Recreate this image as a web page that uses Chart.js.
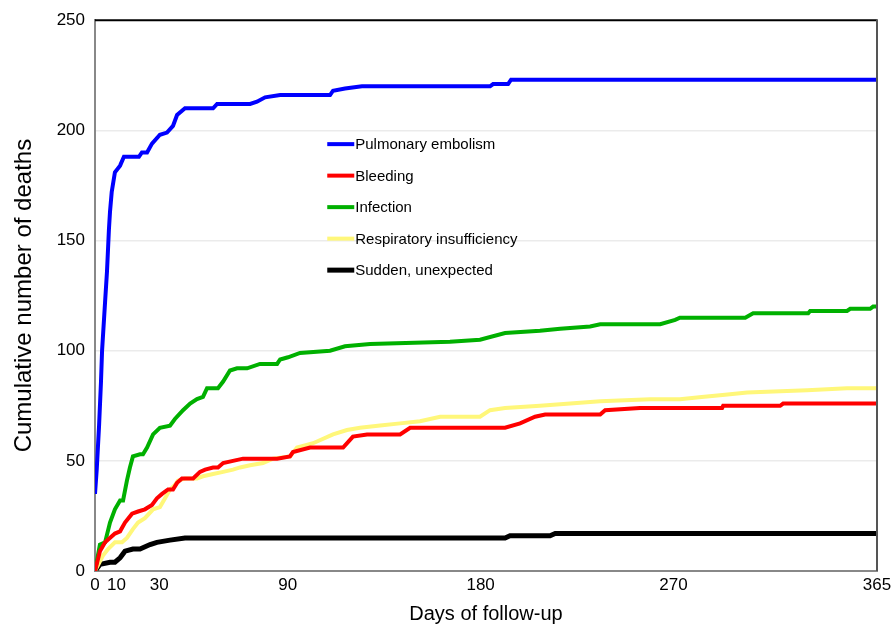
<!DOCTYPE html>
<html>
<head>
<meta charset="utf-8">
<script src="https://cdn.jsdelivr.net/npm/chart.js@4.4.0/dist/chart.umd.min.js"></script>
<style>
  html, body { margin: 0; padding: 0; background: #fff; }
  #wrap { width: 896px; height: 626px; }
</style>
</head>
<body>
<div id="wrap"><canvas id="lineChart"></canvas></div>
<script>
// x tick labels (days)
var dayTicks = [0, 10, 30, 90, 180, 270, 365];
var yTicks = [0, 50, 100, 150, 200, 250];

// Pulmonary embolism
var peDays = [0, 0.8, 1.9, 2.8, 3.3, 4.7, 5.6, 6.5, 7.0, 7.8, 9.3, 11.7, 13.5, 20.5, 21.9, 24.3, 26.6, 30.3, 33.6, 36.4, 38.3, 42.0, 55.1, 57.0, 72.4, 75.6, 79.4, 86.4, 109.7, 111.1, 116.7, 124.6, 184.4, 185.8, 192.8, 194.2, 365];
var peDeaths = [35, 46, 66, 86, 100, 122, 136, 155, 163, 172, 181, 184, 188, 188, 190, 190, 194, 198, 199, 202, 207, 210, 210, 212, 212, 213, 215, 216, 216, 218, 219, 220, 220, 221, 221, 223, 223];

// Bleeding
var blDays = [0, 2.3, 4.7, 9.3, 11.7, 14.0, 17.3, 20.1, 23.3, 26.6, 28.9, 31.3, 34.1, 36.4, 38.3, 40.6, 45.8, 49.0, 51.4, 55.1, 57.4, 59.8, 64.4, 69.1, 81.7, 85.0, 91.0, 92.4, 100.4, 115.8, 120.4, 127.0, 142.4, 147.1, 163.4, 165.7, 191.4, 198.4, 205.4, 210.1, 235.8, 238.1, 254.4, 273.0, 292.7, 293.2, 319.8, 321.2, 365];
var blDeaths = [0, 9, 13, 17, 18, 22, 26, 27, 28, 30, 33, 35, 37, 37, 40, 42, 42, 45, 46, 47, 47, 49, 50, 51, 51, 51, 52, 54, 56, 56, 61, 62, 62, 65, 65, 65, 65, 67, 70, 71, 71, 73, 74, 74, 74, 75, 75, 76, 76];

// Infection
var inDays = [0, 2.3, 4.7, 7.0, 9.3, 11.7, 13.1, 14.9, 16.3, 17.7, 21.0, 22.4, 24.3, 27.1, 30.3, 35.0, 37.3, 41.1, 44.4, 47.6, 50.4, 52.3, 57.4, 59.8, 63.0, 66.3, 71.0, 77.0, 85.0, 86.4, 90.1, 95.7, 109.7, 116.7, 128.4, 165.7, 179.7, 191.4, 207.7, 217.1, 231.1, 235.8, 263.8, 270.8, 273.0, 303.5, 307.2, 332.9, 333.8, 351.0, 352.5, 361.8, 363.2, 365];
var inDeaths = [0, 12, 13, 22, 28, 32, 32, 41, 47, 52, 53, 53, 56, 62, 65, 66, 69, 73, 76, 78, 79, 83, 83, 86, 91, 92, 92, 94, 94, 96, 97, 99, 100, 102, 103, 104, 105, 108, 109, 110, 111, 112, 112, 114, 115, 115, 117, 117, 118, 118, 119, 119, 120, 120];

// Respiratory insufficiency
var riDays = [0, 3.7, 6.1, 9.3, 12.6, 14.9, 17.7, 20.1, 23.3, 27.1, 30.3, 32.7, 35.0, 37.3, 38.7, 42.0, 47.6, 50.4, 55.1, 59.8, 64.4, 67.7, 72.4, 78.4, 83.1, 91.0, 94.3, 101.8, 111.1, 117.6, 123.7, 133.1, 142.4, 151.7, 161.1, 179.7, 184.4, 191.4, 207.7, 221.8, 235.8, 259.1, 273.0, 283.2, 294.1, 304.4, 332.4, 351.0, 365];
var riDeaths = [0, 7, 10, 13, 13, 15, 19, 22, 24, 28, 29, 33, 37, 39, 41, 42, 42, 43, 44, 45, 46, 47, 48, 49, 51, 52, 56, 58, 62, 64, 65, 66, 67, 68, 70, 70, 73, 74, 75, 76, 77, 78, 78, 79, 80, 81, 82, 83, 83];

// Sudden, unexpected
var suDays = [0, 2.3, 7.0, 9.3, 11.7, 14.0, 17.7, 21.0, 25.7, 28.9, 35.0, 42.0, 53.7, 191.4, 193.7, 212.4, 214.8, 365];
var suDeaths = [0, 3, 4, 4, 6, 9, 10, 10, 12, 13, 14, 15, 15, 15, 16, 16, 17, 17];

var FONT = '"Liberation Sans", Arial, sans-serif';

function pts(days, vals) {
  return days.map(function (d, i) { return { x: d, y: vals[i] }; });
}

function series(label, days, vals, color, width) {
  return {
    label: label,
    data: pts(days, vals),
    borderColor: color,
    backgroundColor: color,
    borderWidth: width,
    pointRadius: 0,
    tension: 0,
    fill: false
  };
}

// legend drawn inside the plot area
var insideLegend = {
  id: 'insideLegend',
  afterDatasetsDraw: function (chart) {
    var ctx = chart.ctx, a = chart.chartArea;
    var x0 = a.left + (a.right - a.left) * 0.297;
    var y0 = a.top + (a.bottom - a.top) * 0.225;
    ctx.save();
    ctx.font = '15px ' + FONT;
    ctx.textBaseline = 'middle';
    chart.data.datasets.forEach(function (ds, i) {
      var y = y0 + i * 31.5;
      ctx.strokeStyle = ds.borderColor;
      ctx.lineWidth = ds.borderWidth;
      ctx.beginPath();
      ctx.moveTo(x0, y);
      ctx.lineTo(x0 + 27, y);
      ctx.stroke();
      ctx.fillStyle = '#000';
      ctx.fillText(ds.label, x0 + 28, y + 1);
    });
    ctx.restore();
  }
};

// top and right frame lines
var frame = {
  id: 'frame',
  afterDraw: function (chart) {
    var ctx = chart.ctx, a = chart.chartArea;
    ctx.save();
    ctx.lineWidth = 2;
    ctx.strokeStyle = '#000';
    ctx.beginPath();
    ctx.moveTo(a.left, a.top);
    ctx.lineTo(a.right, a.top);
    ctx.stroke();
    ctx.strokeStyle = '#555';
    ctx.beginPath();
    ctx.moveTo(a.right, a.top - 1);
    ctx.lineTo(a.right, a.bottom);
    ctx.stroke();
    ctx.restore();
  }
};

var ctxL = document.getElementById('lineChart').getContext('2d');
var myLineChart = new Chart(ctxL, {
  type: 'line',
  data: {
    datasets: [
      series('Pulmonary embolism', peDays, peDeaths, '#0000FF', 4),
      series('Bleeding', blDays, blDeaths, '#FF0000', 4),
      series('Infection', inDays, inDeaths, '#00B000', 4),
      series('Respiratory insufficiency', riDays, riDeaths, '#FFF77A', 4),
      series('Sudden, unexpected', suDays, suDeaths, '#000000', 5)
    ]
  },
  plugins: [insideLegend, frame],
  options: {
    responsive: true,
    maintainAspectRatio: false,
    animation: false,
    layout: { padding: { top: 18, right: 19, left: 0, bottom: 0 } },
    plugins: {
      legend: { display: false },
      tooltip: { enabled: false }
    },
    scales: {
      x: {
        type: 'linear',
        min: 0,
        max: 365,
        afterBuildTicks: function (scale) {
          scale.ticks = dayTicks.map(function (v) { return { value: v }; });
        },
        afterFit: function (scale) { scale.height = 55; },
        grid: { display: false, drawTicks: false },
        border: { color: '#888', width: 2 },
        ticks: {
          autoSkip: false,
          maxRotation: 0,
          padding: 4,
          color: '#000',
          font: { family: FONT, size: 17 }
        },
        title: {
          display: true,
          text: 'Days of follow-up',
          color: '#000',
          padding: { top: 0, bottom: 0 },
          font: { family: FONT, size: 20 }
        }
      },
      y: {
        min: 0,
        max: 250,
        afterBuildTicks: function (scale) {
          scale.ticks = yTicks.map(function (v) { return { value: v }; });
        },
        afterFit: function (scale) { scale.width = 95; },
        grid: {
          drawTicks: false,
          color: function (c) {
            return (c.tick && (c.tick.value === 0 || c.tick.value === 250)) ? 'rgba(0,0,0,0)' : '#ebebeb';
          },
          lineWidth: 1.5
        },
        border: { color: '#888', width: 2 },
        ticks: {
          padding: 10,
          color: '#000',
          font: { family: FONT, size: 17 }
        },
        title: {
          display: true,
          text: 'Cumulative number of deaths',
          color: '#000',
          padding: { top: 10, bottom: 0 },
          font: { family: FONT, size: 24 }
        }
      }
    }
  }
});
</script>
</body>
</html>
